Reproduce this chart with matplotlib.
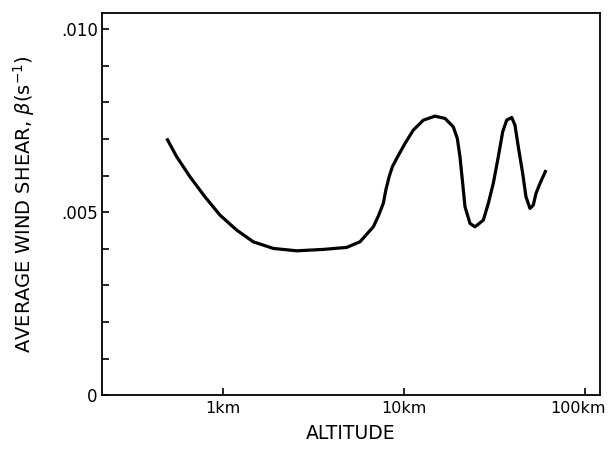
import matplotlib
matplotlib.use('Agg')
import matplotlib.pyplot as plt
import matplotlib.transforms as mtransforms
from matplotlib.ticker import FixedLocator, MultipleLocator

plt.rcParams['font.family'] = ['DejaVu Sans']
plt.rcParams['mathtext.fontset'] = 'dejavusans'

# altitude (km) and average wind shear (s^-1)
altitude_km = [0.487, 0.553, 0.655, 0.792, 0.959, 1.186, 1.464, 1.889, 2.544,
               3.568, 4.806, 5.691, 6.743, 7.186, 7.656, 7.92, 8.263, 8.61,
               9.078, 10.09, 11.21, 12.74, 14.78, 16.79, 18.65, 19.63, 20.31,
               21.02, 21.65, 23.07, 24.58, 27.33, 29.12, 31.02, 33.06, 34.97,
               36.79, 39.21, 40.89, 42.65, 45.10, 47.03, 49.49, 51.61, 53.41,
               56.20, 60.66]
wind_shear = [7.014e-3, 6.511e-3, 5.964e-3, 5.418e-3, 4.918e-3, 4.508e-3,
              4.189e-3, 4.008e-3, 3.943e-3, 3.981e-3, 4.036e-3, 4.189e-3,
              4.598e-3, 4.891e-3, 5.238e-3, 5.62e-3, 5.984e-3, 6.25e-3,
              6.467e-3, 6.877e-3, 7.240e-3, 7.514e-3, 7.623e-3, 7.560e-3,
              7.331e-3, 7.014e-3, 6.511e-3, 5.784e-3, 5.145e-3, 4.691e-3,
              4.598e-3, 4.781e-3, 5.238e-3, 5.784e-3, 6.511e-3, 7.194e-3,
              7.514e-3, 7.587e-3, 7.377e-3, 6.784e-3, 6.057e-3, 5.418e-3,
              5.101e-3, 5.191e-3, 5.511e-3, 5.784e-3, 6.148e-3]

x_ticks = [1, 10, 100]
x_tick_labels = ['1km', '10km', '100km']
y_ticks = [0, 0.005, 0.010]
y_tick_labels = ['0', '.005', '.010']

fig = plt.figure(figsize=(6.11, 4.5), dpi=100)
ax = fig.add_axes([0.167, 0.122, 0.815, 0.849])

ax.plot(altitude_km, wind_shear, color='black', lw=2.3,
        solid_joinstyle='round', solid_capstyle='butt')

ax.set_xscale('log')
ax.set_xlim(0.2138, 120.6)
ax.set_ylim(0, 0.01044)

ax.xaxis.set_major_locator(FixedLocator(x_ticks))
ax.xaxis.set_minor_locator(FixedLocator([]))
ax.set_xticklabels(x_tick_labels)
ax.yaxis.set_major_locator(FixedLocator(y_ticks))
ax.yaxis.set_minor_locator(MultipleLocator(0.001))
ax.set_yticklabels(y_tick_labels)

ax.tick_params(which='both', direction='in', length=5, width=1.2,
               labelsize=12)
ax.tick_params(axis='x', pad=4, labelsize=11.5)
ax.tick_params(axis='y', pad=3)
for s in ax.spines.values():
    s.set_linewidth(1.3)

# keep the last tick label inside the figure
last = ax.get_xticklabels()[-1]
last.set_transform(last.get_transform() +
                   mtransforms.ScaledTranslation(-5 / 72, 0, fig.dpi_scale_trans))

ax.set_xlabel('ALTITUDE', fontsize=13.5, labelpad=6)
ax.set_ylabel(r'AVERAGE WIND SHEAR, $\beta$(s$^{-1}$)', fontsize=14,
              labelpad=17)

fig.savefig('out.png', dpi=100)
